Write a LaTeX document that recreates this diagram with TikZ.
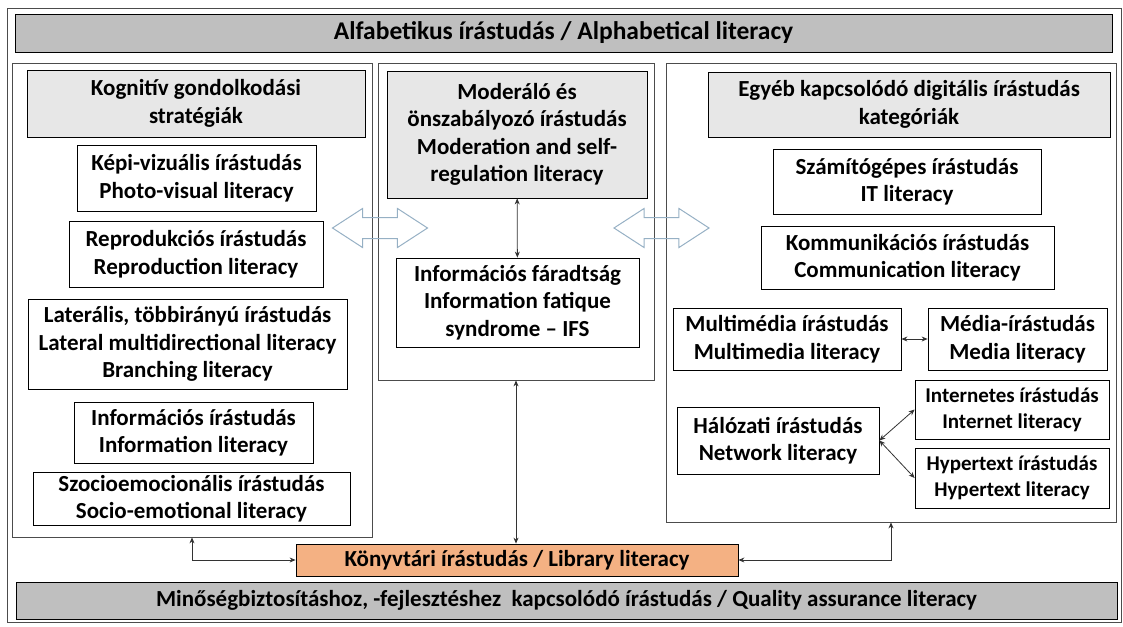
\documentclass[tikz,border=0pt]{standalone}
\usepackage{fontspec}
\setmainfont{Carlito}
\usetikzlibrary{positioning, arrows.meta, shapes.arrows}
\definecolor{bandgray}{RGB}{191,191,191}
\definecolor{headgray}{RGB}{231,231,231}
\definecolor{libraryorange}{RGB}{244,177,131}
\definecolor{linkblue}{RGB}{150,176,196}
\newcommand{\bigtext}{\bfseries\fontsize{23}{27.5}\selectfont}
\newcommand{\smalltext}{\bfseries\fontsize{21}{26}\selectfont}

\begin{document}
\begin{tikzpicture}[x=1pt, y=-1pt, >={Stealth[length=6pt, width=5pt]},
	box/.style={draw, rectangle, align=center, inner sep=0pt, line width=0.8pt, font=\bigtext},
	panel/.style={draw=black!70, rectangle, inner sep=0pt, line width=0.8pt},
	band/.style={box, fill=bandgray},
	head/.style={box, fill=headgray},
	link/.style={<->, line width=0.8pt, draw=black!80},
	hollow/.style={double arrow, draw=linkblue, line width=1pt, inner sep=10pt, double arrow head extend=9pt, double arrow tip angle=66, minimum height=95pt}]
	\useasboundingbox (0,0) rectangle (1123,626);

	% frame and bands
	\node[panel, minimum width=1114, minimum height=614] (frame) at (564,315) {};
	\node[band, font=\bfseries\fontsize{25.5}{30}\selectfont, minimum width=1097, minimum height=38] (alpha) at (563.5,33) {Alfabetikus írástudás / Alphabetical literacy};
	\node[band, minimum width=1101, minimum height=37] (quality) at (566.5,600.5) {Minőségbiztosításhoz, -fejlesztéshez\ \ kapcsolódó írástudás / Quality assurance literacy};

	% three panels
	\node[panel, minimum width=360, minimum height=474] (leftpanel) at (192,300) {};
	\node[panel, minimum width=276, minimum height=317] (midpanel) at (516,221.5) {};
	\node[panel, minimum width=450, minimum height=459] (rightpanel) at (891,292.5) {};

	% left panel
	\node[head, minimum width=338, minimum height=67] (cognitive) at (196,103.5) {Kognitív gondolkodási\\stratégiák};
	\node[box, minimum width=239, minimum height=66] (photo) at (196.5,178) {Képi-vizuális írástudás\\Photo-visual literacy};
	\node[box, minimum width=254, minimum height=66] (repro) at (196,254) {Reprodukciós írástudás\\Reproduction literacy};
	\node[box, minimum width=319, minimum height=90] (lateral) at (187.5,344) {Laterális, többirányú írástudás\\Lateral multidirectional literacy\\Branching literacy};
	\node[box, minimum width=239, minimum height=61] (information) at (193.5,432.5) {Információs írástudás\\Information literacy};
	\node[box, minimum width=317, minimum height=53] (socio) at (191.5,498.5) {Szocioemocionális írástudás\\Socio-emotional literacy};

	% middle panel
	\node[head, minimum width=260, minimum height=127] (moderation) at (517,134.5) {Moderáló és\\önszabályozó írástudás\\Moderation and self-\\regulation literacy};
	\node[box, minimum width=243, minimum height=89] (fatigue) at (517.5,302.5) {Információs fáradtság\\Information fatique\\syndrome -- IFS};

	% right panel
	\node[head, minimum width=402, minimum height=65] (digital) at (909,104.5) {Egyéb kapcsolódó digitális írástudás\\kategóriák};
	\node[box, minimum width=268, minimum height=65] (computer) at (907,181.5) {Számítógépes írástudás\\IT literacy};
	\node[box, minimum width=293, minimum height=63] (communication) at (907.5,257.5) {Kommunikációs írástudás\\Communication literacy};
	\node[box, minimum width=228, minimum height=62] (multimedia) at (787,339) {Multimédia írástudás\\Multimedia literacy};
	\node[box, minimum width=179, minimum height=62] (media) at (1017.5,339) {Média-írástudás\\Media literacy};
	\node[box, minimum width=202, minimum height=67] (network) at (778,440.5) {Hálózati írástudás\\Network literacy};
	\node[box, font=\smalltext, minimum width=194, minimum height=59] (internet) at (1012,409.5) {Internetes írástudás\\Internet literacy};
	\node[box, font=\smalltext, minimum width=194, minimum height=60] (hypertext) at (1012,478) {Hypertext írástudás\\Hypertext literacy};

	% library
	\node[box, fill=libraryorange, minimum width=442, minimum height=32] (library) at (517,560) {Könyvtári írástudás / Library literacy};

	% hollow links between panels
	\node[hollow] (leftlink) at (380,228) {};
	\node[hollow] (rightlink) at (661.5,228) {};

	% connectors
	\draw[link] (moderation) -- (fatigue);
	\draw[link] (midpanel.south) -- (midpanel.south |- library.north);
	\draw[link] (leftpanel.south) |- (library.west);
	\draw[link] (rightpanel.south) |- (library.east);
	\draw[link] (multimedia) -- (media);
	\draw[link] (network.east) -- (internet.west);
	\draw[link] (network.east) -- (hypertext.west);
\end{tikzpicture}
\end{document}
